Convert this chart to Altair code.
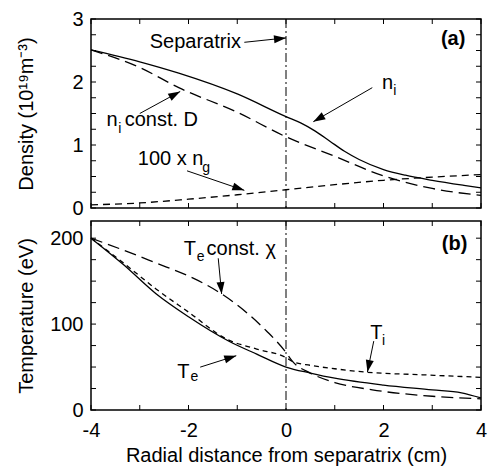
import math
import altair as alt
import pandas as pd

FONT = "Liberation Sans"
W, H = 390, 189
KX = W / 8.0

# ---------------- data ----------------
# panel (a): density
ni_x = [-4, -3, -2.2, -1, 0, 0.3, 0.6, 0.9, 1.2, 1.5, 2, 2.45, 3, 3.65, 4]
ni_y = [2.51, 2.32, 2.14, 1.81, 1.45, 1.35, 1.22, 1.06, 0.90, 0.77, 0.61, 0.52, 0.44, 0.36, 0.32]
niD_x = [-4, -3, -2.2, -1, 0, 1, 2, 3, 4]
niD_y = [2.51, 2.23, 1.91, 1.52, 1.13, 0.82, 0.51, 0.31, 0.20]
ng_x = [-4, -3, -2, -1, 0, 1, 2, 3, 4]
ng_y = [0.05, 0.08, 0.14, 0.21, 0.29, 0.37, 0.44, 0.49, 0.53]

# panel (b): temperature
te_x = [-4, -3.33, -2.66, -2.0, -1.17, -0.6, 0, 0.5, 1, 2, 3, 3.6, 4]
te_y = [200, 169, 135, 108.5, 80, 65, 50, 43, 37, 29, 23.5, 20, 14]
ti_x = [-4, -3.33, -2.66, -2.0, -1.2, -0.6, 0, 0.15, 0.5, 1, 1.65, 2.8, 4]
ti_y = [200, 171, 140.6, 114, 82, 71, 61, 56, 52, 48, 44, 41, 38]
tec_x = [-4, -3.33, -2.66, -2.0, -1.4, -0.8, -0.4, 0, 0.12, 0.5, 1, 1.77, 3, 4]
tec_y = [200, 186, 171, 156, 138, 113, 92, 67, 57.5, 43, 32, 23.5, 16, 13]

x_ticks = [-4, -3, -2, -1, 0, 1, 2, 3, 4]
x_labels = [-4, -2, 0, 2, 4]
ya_ticks = [0.25 * i for i in range(13)]
ya_labels = [0, 1, 2, 3]
yb_ticks = [25 * i for i in range(9)]
yb_labels = [0, 100, 200]

# annotations: arrows (x0, y0) -> (x1, y1)
arr_a_x0 = [-0.855, 1.77, -3.0, -2.03]
arr_a_y0 = [2.63, 1.91, 1.50, 0.59]
arr_a_x1 = [0.0, 0.56, -2.17, -0.855]
arr_a_y1 = [2.70, 1.37, 1.85, 0.28]
arr_b_x0 = [-1.39, -1.76, 1.80]
arr_b_y0 = [176.6, 49.9, 80.2]
arr_b_x1 = [-1.32, -1.02, 1.67]
arr_b_y1 = [135, 63.2, 44.2]

# text pieces
txt_a_main = ["n", "const. D", "100 x n", "n"]
txt_a_main_x = [1.97, -3.31, -3.04, -3.68]
txt_a_main_y = [1.99, 1.39, 0.77, 1.39]
txt_a_sub = ["i", "i", "g"]
txt_a_sub_x = [2.20, -3.44, -1.72]
txt_a_sub_y = [1.86, 1.26, 0.64]
txt_b_main = ["T", "const. χ", "T", "T"]
txt_b_main_x = [-2.10, -1.63, -2.23, 1.73]
txt_b_main_y = [187.9, 187.9, 44.2, 89.6]
txt_b_sub = ["e", "e", "i"]
txt_b_sub_x = [-1.83, -1.96, 1.97]
txt_b_sub_y = [178.5, 38.6, 80.2]

ARROW = "M0,0L-0.667,2L0.667,2Z"

xs = alt.Scale(domain=[-4, 4], nice=False, zero=False)
ysa = alt.Scale(domain=[0, 3], nice=False, zero=False)
ysb = alt.Scale(domain=[0, 220], nice=False, zero=False)

yaxis_a = alt.Axis(values=ya_labels, ticks=False, domain=False, grid=False,
                   labelPadding=8, title="Density (10¹⁹m⁻³)",
                   titleX=-65, titleBaseline="middle")
yaxis_b = alt.Axis(values=yb_labels, ticks=False, domain=False, grid=False,
                   labelPadding=8, title="Temperature (eV)",
                   titleX=-65, titleBaseline="middle")
xaxis_b = alt.Axis(values=x_labels, ticks=False, domain=False, grid=False,
                   labelPadding=10, labelFlush=False,
                   labelExpr="'' + datum.value",
                   title="Radial distance from separatrix (cm)", titlePadding=5)


class Panel:
    def __init__(self, ys, xaxis, yaxis, ky):
        self.ys, self.xaxis, self.yaxis, self.ky = ys, xaxis, yaxis, ky

    def X(self, f):
        return alt.X(f, scale=xs, axis=self.xaxis)

    def Y(self, f):
        return alt.Y(f, scale=self.ys, axis=self.yaxis)

    def curve(self, xv, yv, dash):
        df = pd.DataFrame({"x": xv, "y": yv})
        mk = dict(color="black", strokeWidth=1.3, interpolate="monotone")
        if dash:
            mk["strokeDash"] = dash
        return alt.Chart(df).mark_line(**mk).encode(x=self.X("x:Q"), y=self.Y("y:Q"))

    def ticks(self, yt):
        dx = pd.DataFrame({"v": x_ticks})
        dy = pd.DataFrame({"v": yt})
        bx = alt.Chart(dx).mark_rule(color="black", strokeWidth=1)
        by = alt.Chart(dy).mark_rule(color="black", strokeWidth=1)
        return [
            bx.encode(x=self.X("v:Q"), y=alt.value(H), y2=alt.value(H - 5)),
            bx.encode(x=self.X("v:Q"), y=alt.value(0), y2=alt.value(5)),
            by.encode(y=self.Y("v:Q"), x=alt.value(0), x2=alt.value(5)),
            by.encode(y=self.Y("v:Q"), x=alt.value(W), x2=alt.value(W - 5)),
        ]

    def sep(self):
        return alt.Chart(pd.DataFrame({"x": [0]})).mark_rule(
            color="black", strokeWidth=1, strokeDash=[9, 3, 2, 3]
        ).encode(x=self.X("x:Q"))

    def arrows(self, x0, y0, x1, y1):
        ang = [
            math.degrees(math.atan2((b - a) * KX, (d - c) * self.ky)) % 360
            for a, b, c, d in zip(x0, x1, y0, y1)
        ]
        df = pd.DataFrame({"x0": x0, "y0": y0, "x1": x1, "y1": y1, "ang": ang})
        line = alt.Chart(df).mark_rule(color="black", strokeWidth=1).encode(
            x=self.X("x0:Q"), y=self.Y("y0:Q"), x2="x1:Q", y2="y1:Q")
        head = alt.Chart(df).mark_point(
            shape=ARROW, filled=True, color="black", size=144, opacity=1, strokeWidth=0
        ).encode(x=self.X("x1:Q"), y=self.Y("y1:Q"),
                 angle=alt.Angle("ang:Q", scale=None))
        return [line, head]

    def text(self, t, xv, yv, size, align="left", weight="normal"):
        df = pd.DataFrame({"t": t, "x": xv, "y": yv})
        return alt.Chart(df).mark_text(
            font=FONT, fontSize=size, align=align, baseline="middle",
            color="black", fontWeight=weight
        ).encode(x=self.X("x:Q"), y=self.Y("y:Q"), text="t:N")


pa = Panel(ysa, None, yaxis_a, H / 3.0)
pb = Panel(ysb, xaxis_b, yaxis_b, H / 220.0)

top_layers = (
    [pa.curve(ni_x, ni_y, None),
     pa.curve(niD_x, niD_y, [12, 6]),
     pa.curve(ng_x, ng_y, [7, 5]),
     pa.sep()]
    + pa.ticks(ya_ticks)
    + pa.arrows(arr_a_x0, arr_a_y0, arr_a_x1, arr_a_y1)
    + [pa.text(txt_a_main, txt_a_main_x, txt_a_main_y, 20),
       pa.text(txt_a_sub, txt_a_sub_x, txt_a_sub_y, 14),
       pa.text(["Separatrix"], [-1.86], [2.63], 20, align="center"),
       pa.text(["(a)"], [3.68], [2.68], 20, align="right", weight="bold")]
)

bot_layers = (
    [pb.curve(te_x, te_y, None),
     pb.curve(ti_x, ti_y, [5, 4]),
     pb.curve(tec_x, tec_y, [12, 6]),
     pb.sep()]
    + pb.ticks(yb_ticks)
    + pb.arrows(arr_b_x0, arr_b_y0, arr_b_x1, arr_b_y1)
    + [pb.text(txt_b_main, txt_b_main_x, txt_b_main_y, 20),
       pb.text(txt_b_sub, txt_b_sub_x, txt_b_sub_y, 14),
       pb.text(["(b)"], [3.72], [193.6], 20, align="right", weight="bold")]
)

top = alt.layer(*top_layers).properties(width=W, height=H)
bot = alt.layer(*bot_layers).properties(width=W, height=H)

chart = (
    alt.vconcat(top, bot, spacing=0)
    .properties(padding={"left": 7, "top": 0, "right": 0, "bottom": 0})
    .configure_view(stroke="black", strokeWidth=1.5)
    .configure_axis(labelFont=FONT, titleFont=FONT, labelFontSize=20,
                    titleFontSize=20, labelColor="black", titleColor="black",
                    titleFontWeight="normal")
)

chart.save("out.html", embed_options={"renderer": "svg", "actions": False})
